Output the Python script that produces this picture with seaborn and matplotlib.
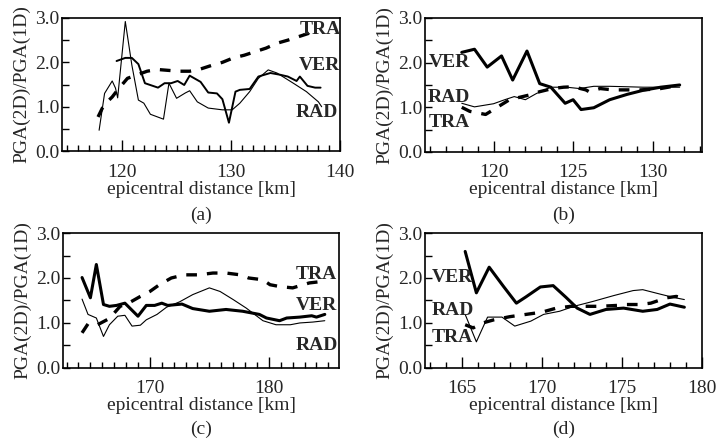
import matplotlib
matplotlib.use("Agg")
import matplotlib.pyplot as plt
import seaborn as sns
from matplotlib.ticker import MultipleLocator, FormatStrFormatter

# (a)
a_tra_x = [117.8, 118.2, 118.6, 119.1, 119.6, 120.5, 121.4, 122.3, 123.2, 124.2, 125.2, 126.2,
           127.2, 128.2, 129.2, 130.2, 131.2, 132.2, 133.2, 134.2, 135.2, 136.2, 137.2, 137.9]
a_tra_y = [0.77, 0.97, 1.10, 1.22, 1.38, 1.64, 1.72, 1.80, 1.84, 1.82, 1.80, 1.80,
           1.85, 1.93, 2.00, 2.10, 2.16, 2.24, 2.32, 2.43, 2.50, 2.58, 2.66, 2.76]
a_ver_x = [119.5, 120.3, 120.9, 121.5, 122.1, 123.3, 123.9, 124.5, 125.1, 125.7, 126.2, 127.2,
           127.9, 128.7, 129.2, 129.8, 130.4, 130.8, 131.7, 132.5, 133.6, 134.5, 135.2, 136.0,
           136.3, 137.0, 137.7, 138.2]
a_ver_y = [2.03, 2.10, 2.10, 1.96, 1.53, 1.43, 1.53, 1.53, 1.58, 1.49, 1.70, 1.56,
           1.32, 1.30, 1.17, 0.64, 1.34, 1.38, 1.40, 1.68, 1.76, 1.72, 1.68, 1.58,
           1.68, 1.47, 1.43, 1.43]
a_rad_x = [117.9, 118.4, 119.1, 119.4, 119.6, 120.3, 120.9, 121.5, 122.0, 122.6, 123.8, 124.3,
           125.0, 125.8, 126.2, 126.9, 127.9, 129.2, 130.1, 130.8, 131.7, 132.5, 133.4, 134.2,
           135.7, 136.9, 138.0, 138.3]
a_rad_y = [0.47, 1.30, 1.58, 1.42, 1.20, 2.92, 1.94, 1.15, 1.08, 0.83, 0.72, 1.53,
           1.19, 1.31, 1.36, 1.11, 0.97, 0.93, 0.93, 1.08, 1.34, 1.64, 1.83, 1.76,
           1.53, 1.34, 1.11, 1.00]

# (b)
b_ver_x = [118.0, 118.8, 119.6, 120.5, 121.2, 122.1, 122.9, 123.6, 124.5, 125.0, 125.5, 126.3,
           127.3, 128.4, 129.4, 130.5, 131.7]
b_ver_y = [2.23, 2.30, 1.90, 2.15, 1.61, 2.26, 1.53, 1.45, 1.09, 1.17, 0.95, 0.99,
           1.17, 1.29, 1.38, 1.45, 1.50]
b_rad_x = [118.0, 118.8, 120.0, 120.7, 121.3, 122.0, 122.7, 123.6, 124.6, 125.4, 126.3, 127.3,
           128.4, 129.4, 130.5, 131.7]
b_rad_y = [1.09, 1.01, 1.08, 1.17, 1.24, 1.17, 1.31, 1.45, 1.45, 1.42, 1.47, 1.47,
           1.46, 1.45, 1.45, 1.45]
b_tra_x = [118.0, 118.5, 119.5, 120.0, 121.0, 122.3, 122.9, 123.7, 124.4, 125.0, 125.8, 126.0,
           126.7, 127.5, 128.4, 129.2, 129.8, 130.5, 131.3, 131.7]
b_tra_y = [1.00, 0.91, 0.84, 0.95, 1.17, 1.28, 1.35, 1.42, 1.45, 1.46, 1.39, 1.35,
           1.42, 1.39, 1.39, 1.39, 1.40, 1.42, 1.47, 1.50]

# (c)
c_ver_x = [164.3, 165.0, 165.5, 166.1, 166.6, 167.2, 167.9, 169.0, 169.7, 170.4, 171.0, 171.5,
           172.7, 173.6, 175.0, 176.4, 177.8, 179.2, 179.8, 180.9, 181.5, 182.6, 183.6, 184.0, 184.7]
c_ver_y = [2.01, 1.56, 2.30, 1.41, 1.37, 1.39, 1.44, 1.15, 1.39, 1.39, 1.44, 1.39,
           1.42, 1.32, 1.26, 1.30, 1.26, 1.19, 1.11, 1.05, 1.11, 1.13, 1.16, 1.13, 1.19]
c_rad_x = [164.3, 164.8, 165.5, 166.1, 166.6, 167.3, 167.9, 168.5, 169.2, 169.7, 170.6, 171.4,
           172.5, 173.6, 175.0, 175.9, 177.0, 178.1, 179.5, 180.6, 181.8, 182.6, 183.7, 184.7]
c_rad_y = [1.53, 1.19, 1.11, 0.70, 0.96, 1.15, 1.17, 0.93, 0.95, 1.07, 1.19, 1.35,
           1.47, 1.63, 1.78, 1.70, 1.52, 1.33, 1.05, 0.96, 0.96, 1.00, 1.02, 1.05]
c_tra_x = [164.3, 164.8, 165.6, 166.6, 167.5, 168.2, 169.2, 170.0, 170.8, 171.8, 172.9, 174.1,
           175.3, 176.4, 177.6, 178.3, 179.5, 180.1, 180.9, 182.0, 183.4, 184.7]
c_tra_y = [0.78, 0.98, 0.96, 1.10, 1.37, 1.44, 1.59, 1.70, 1.85, 2.00, 2.07, 2.07,
           2.11, 2.11, 2.07, 2.00, 1.96, 1.85, 1.81, 1.78, 1.89, 1.93]

# (d)
d_ver_x = [165.2, 165.9, 166.7, 167.6, 168.4, 169.0, 169.9, 170.7, 171.5, 172.2, 173.0, 174.0,
           175.1, 176.3, 177.2, 178.0, 178.9]
d_ver_y = [2.59, 1.67, 2.24, 1.81, 1.44, 1.58, 1.80, 1.83, 1.57, 1.33, 1.19, 1.30,
           1.33, 1.26, 1.30, 1.42, 1.35]
d_rad_x = [165.2, 165.9, 166.6, 167.5, 168.3, 169.3, 170.1, 171.1, 172.0, 173.2, 174.5, 175.7,
           176.3, 177.4, 178.2, 178.9]
d_rad_y = [1.19, 0.58, 1.13, 1.13, 0.93, 1.04, 1.19, 1.26, 1.37, 1.48, 1.61, 1.72,
           1.74, 1.64, 1.57, 1.52]
d_tra_x = [165.2, 165.7, 166.3, 167.0, 168.0, 169.0, 170.0, 170.9, 171.8, 172.8, 173.6, 174.7,
           175.3, 176.1, 176.8, 177.8, 178.4, 178.9]
d_tra_y = [0.96, 0.89, 1.00, 1.07, 1.14, 1.19, 1.24, 1.33, 1.37, 1.37, 1.37, 1.39,
           1.41, 1.41, 1.44, 1.56, 1.59, 1.54]

sns.set_style("ticks")
plt.rcParams["font.family"] = ["Liberation Serif", "DejaVu Serif"]
plt.rcParams["font.size"] = 14

STYLES = {
    "thick": dict(lw=2.2, linestyle="-"),
    "mid": dict(lw=1.4, linestyle="-"),
    "thin": dict(lw=0.8, linestyle="-"),
    "dash": dict(lw=2.4, linestyle=(0, (3.2, 3.0))),
}

fig = plt.figure(figsize=(7.17, 4.38), dpi=100)


def panel(rect, xlim, major, lines, labels, letter, letter_y):
    ax = fig.add_axes(rect)
    for x, y, st in lines:
        sns.lineplot(x=x, y=y, ax=ax, color="black", sort=False, estimator=None, **STYLES[st])
    for txt, tx, ty in labels:
        ax.text(tx, ty, txt, ha="center", va="center", fontsize=14, fontweight="bold")
    ax.set_xlim(*xlim)
    ax.set_ylim(0, 3)
    ax.xaxis.set_major_locator(MultipleLocator(major))
    ax.xaxis.set_minor_locator(MultipleLocator(1))
    ax.yaxis.set_major_locator(MultipleLocator(1))
    ax.yaxis.set_minor_locator(MultipleLocator(0.5))
    ax.yaxis.set_major_formatter(FormatStrFormatter("%.1f"))
    ax.tick_params(which="both", direction="in", bottom=True, left=True, top=False, right=False,
                   color="black", width=1)
    ax.tick_params(axis="x", which="major", length=8, pad=9, labelsize=14)
    ax.tick_params(axis="x", which="minor", length=4)
    ax.tick_params(axis="y", which="both", length=5, pad=2, labelsize=14)
    for sp in ax.spines.values():
        sp.set_linewidth(1.2)
        sp.set_color("black")
    ax.set_xlabel("epicentral distance [km]", fontsize=14, labelpad=0)
    ax.set_ylabel("PGA(2D)/PGA(1D)", fontsize=14)
    ax.yaxis.set_label_coords(-0.115, 0.5)
    fig.text(rect[0] + rect[2] / 2, letter_y, letter, ha="center", va="center", fontsize=14)
    return ax


panel([0.0865, 0.655, 0.388, 0.304], (114.5, 140), 10,
      [(a_tra_x, a_tra_y, "dash"), (a_ver_x, a_ver_y, "mid"), (a_rad_x, a_rad_y, "thin")],
      [("TRA", 138.2, 2.73), ("VER", 138.1, 1.94), ("RAD", 137.9, 0.86)], "(a)", 0.508)

panel([0.593, 0.653, 0.386, 0.306], (115.7, 133.1), 5,
      [(b_tra_x, b_tra_y, "dash"), (b_ver_x, b_ver_y, "thick"), (b_rad_x, b_rad_y, "thin")],
      [("VER", 117.2, 2.0), ("RAD", 117.2, 1.23), ("TRA", 117.2, 0.65)], "(b)", 0.508)

panel([0.0879, 0.160, 0.385, 0.308], (162.7, 185.9), 10,
      [(c_tra_x, c_tra_y, "dash"), (c_ver_x, c_ver_y, "thick"), (c_rad_x, c_rad_y, "thin")],
      [("TRA", 184.0, 2.07), ("VER", 184.0, 1.38), ("RAD", 184.0, 0.49)], "(c)", 0.020)

panel([0.593, 0.160, 0.386, 0.308], (162.7, 180), 5,
      [(d_tra_x, d_tra_y, "dash"), (d_ver_x, d_ver_y, "thick"), (d_rad_x, d_rad_y, "thin")],
      [("VER", 164.4, 2.0), ("RAD", 164.4, 1.27), ("TRA", 164.4, 0.67)], "(d)", 0.020)

fig.savefig("out.png", dpi=100)
